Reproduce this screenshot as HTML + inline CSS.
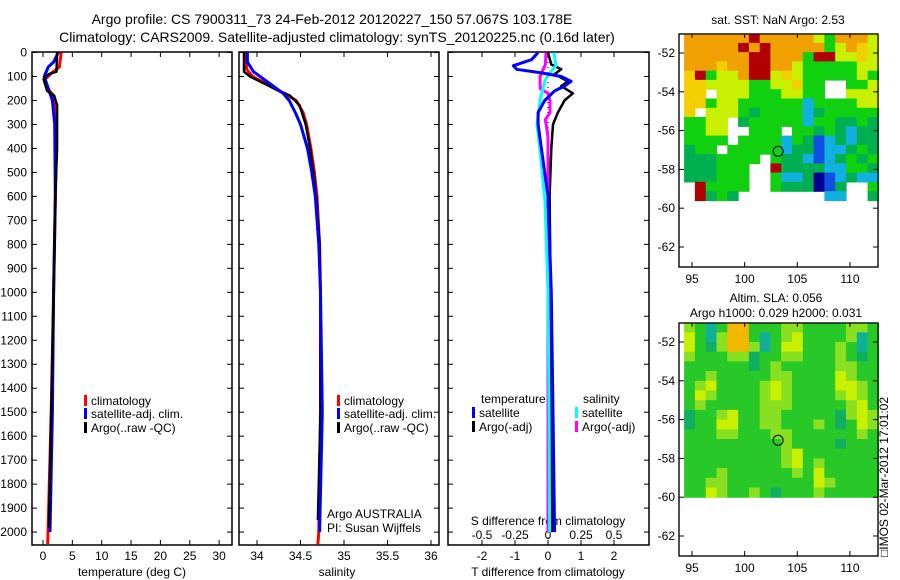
<!DOCTYPE html>
<html><head><meta charset="utf-8"><style>
html,body{margin:0;padding:0;background:#fff;}
svg{display:block;font-family:"Liberation Sans",sans-serif;}
</style></head><body>
<svg id="fig" width="900" height="580" viewBox="0 0 900 580" xmlns="http://www.w3.org/2000/svg">
<text x="332" y="24" font-size="14" text-anchor="middle">Argo profile: CS 7900311_73 24-Feb-2012 20120227_150 57.067S 103.178E</text>
<text x="337" y="42" font-size="14" text-anchor="middle">Climatology: CARS2009. Satellite-adjusted climatology: synTS_20120225.nc (0.16d later)</text>
<text x="778" y="24" font-size="12" text-anchor="middle">sat. SST: NaN Argo: 2.53</text>
<text x="776" y="302" font-size="12" text-anchor="middle">Altim. SLA: 0.056</text>
<text x="776" y="317" font-size="12" text-anchor="middle">Argo h1000: 0.029 h2000: 0.031</text>
<text x="888" y="557" font-size="12" transform="rotate(-90 888 557)">□IMOS 02-Mar-2012 17:01:02</text>
<text x="132" y="576" font-size="12" text-anchor="middle">temperature (deg C)</text>
<text x="337" y="576" font-size="12" text-anchor="middle">salinity</text>
<text x="548" y="576" font-size="12" text-anchor="middle">T difference from climatology</text>
<text x="548" y="525" font-size="12" text-anchor="middle">S difference from climatology</text>
<text x="327" y="518" font-size="12">Argo AUSTRALIA</text>
<text x="327" y="532" font-size="12">PI: Susan Wijffels</text>
</svg>
<script>
// ---- profile data ----
const tClimDepth = [0,60,85,115,150,180,250,500,1000,1500,2000,2050];
const tClimVal   = [3.1,2.8,1.5,0.2,0.8,1.8,2.3,2.2,1.8,1.4,0.85,0.8];
const tSatDepth  = [0,40,60,100,150,200,300,600,1000,1500,2000];
const tSatVal    = [2.6,1.8,0.9,0.2,0.9,1.6,2.0,2.1,1.8,1.6,1.2];
const tArgoDepth = [0,80,90,110,160,180,220,400,600,1000,1500,1980];
const tArgoVal   = [2.4,2.3,1.0,0.1,0.7,1.9,2.4,2.4,2.1,1.8,1.4,1.0];

const sClimDepth = [0,70,100,150,180,200,250,300,400,500,600,800,1000,1500,2000,2050];
const sClimVal   = [33.87,33.88,33.95,34.2,34.36,34.45,34.53,34.57,34.62,34.66,34.69,34.72,34.73,34.73,34.71,34.70];
const sSatDepth  = [0,40,80,130,170,200,250,300,400,500,600,800,1000,1500,2000];
const sSatVal    = [33.89,33.89,33.96,34.15,34.3,34.37,34.44,34.5,34.58,34.63,34.67,34.71,34.73,34.75,34.72];
const sArgoDepth = [0,80,100,150,180,220,300,400,500,600,800,1000,1500,1950];
const sArgoVal   = [33.85,33.85,33.92,34.2,34.38,34.49,34.56,34.61,34.65,34.68,34.72,34.73,34.73,34.70];

const dtSatDepth = [0,30,55,70,85,100,120,140,160,200,250,300,400,600,1000,1500,2000];
const dtSatVal   = [-0.3,-0.5,-1.05,-0.95,-0.2,0.4,0.7,0.5,0.2,-0.1,-0.3,-0.3,-0.2,0,0.1,0.15,0.2];
const dtArgoDepth= [0,50,70,90,120,140,170,200,250,300,400,600,1000,1500,2000];
const dtArgoVal  = [0,0.1,0.4,0.2,0.6,0.4,0.75,0.5,0.3,0.15,0.1,0.05,0.08,0.1,0.12];
const dsSatDepth = [0,54,115,200,300,410,620,1000,1500,2000];
const dsSatVal   = [0.045,0.06,-0.023,-0.06,-0.083,-0.06,-0.023,0.0,0.008,0.012];
const dsArgoDepth= [0,50,100,150,170,200,250,280,350,1000,2000];
const dsArgoVal  = [-0.015,-0.02,-0.06,-0.06,0,0.015,0.015,-0.02,0,0,0];

const depthTicks = [0,100,200,300,400,500,600,700,800,900,1000,1100,1200,1300,1400,1500,1600,1700,1800,1900,2000];
const tTicks = [0,5,10,15,20,25,30];
const sTicks = [34,34.5,35,35.5,36];
const sTickLabels = ["34","34.5","35","35.5","36"];
const dtTicks = [-2,-1,0,1,2];
const dsTicks = [-0.5,-0.25,0,0.25,0.5];
const dsTickLabels = ["-0.5","-0.25","0","0.25","0.5"];

// ---- map data (1 deg lon x ~0.5 deg lat cells) ----
const sstRows = [
"OOOOOOROOOOOLGOOOL",
"OOOOOROROOOOOGLOYL",
"OOOOOORROOOGRRLLYL",
"OOOYOORROOLGGGGGLL",
"YRGLLORRLYLGGGGGLG",
"YYLLLLGGLLYGGWWGGL",
"YYWLLLGGGLLGGWWLLL",
"YYGLLGGGGGGCGGGGLL",
"YWLLLGDGGGGCDGGGGG",
"GGLLWDGGGGGCGGDDGD",
"GGLLWWGGGWGGDGDCDD",
"GGGGWGGGGCGDBCDCDD",
"DGGWGGGGGCDDBCCDGD",
"DDDGGGGWGDDCBCDGDG",
"DDDGGGWWRDDDDCCGGD",
"DDDGGGWWGCCDNBCDCC",
"WRGGGGWWGDDDNBDWWG",
"WRDGDWWWWWWWWCCWWD"];
const slaRows = [
"LGTGOOGGGLLGGGGLLG",
"YGTLOOGTGLYGGGGLTG",
"YGgLOOLTGYYGGGLGTG",
"LGGGLLgGGLLGGGLGgG",
"GGGGGGgGLGGGGGLLGG",
"GGLGGGGGLLGGGGYLGG",
"GLYGGGGLYLGGGGYYLG",
"GYLGGGGLYLGGGGLYLG",
"GLGGGGGLLLGGGGGLYG",
"gGGLYGGLLGGGGGgLYL",
"gGGYYGGLLGGGLGgGYL",
"GGGLLGGGLLGGGGGGLG",
"GGGGGGGGGLGGGGgGGG",
"GGGGGGGGGLYGGGGGGG",
"GGGGGGGGGLYGLGGGGG",
"GGGLGGGGGGLGYGGGGG",
"GGLLGGGGGGGGYLGGGG",
"GGYLGGLGgGGGLGGGGG"];
const latTicks = [-52,-54,-56,-58,-60,-62];
const lonTicks = [95,100,105,110];
const argoLon = 103.178, argoLat = -57.067;

const NS="http://www.w3.org/2000/svg";
const svg=document.getElementById('fig');
function mk(tag,attrs,parent){const e=document.createElementNS(NS,tag);for(const k in attrs)e.setAttribute(k,attrs[k]);(parent||svg).appendChild(e);return e;}

const yD=d=>52.5+d*0.2398;
const xT=t=>43+t*5.87;
const xS=s=>257+(s-34)*87;
const xDT=v=>548+v*33;
const xDS=v=>548+v*132;
const TOP=52, BOT=545;

function box(x0,x1,name){
  const r=mk('rect',{x:x0,y:TOP,width:x1-x0,height:BOT-TOP,fill:'none',stroke:'#000','stroke-width':1.5});
  
  
  for(const d of depthTicks){
    const t1=mk('line',{x1:x0,x2:x0+5,y1:yD(d),y2:yD(d),stroke:'#000'});
    
    
    const t2=mk('line',{x1:x1,x2:x1-5,y1:yD(d),y2:yD(d),stroke:'#000'});
    
    
  }
}
function xticks(vals,labels,fx,name,labelY,top){
  vals.forEach((v,i)=>{
    const x=fx(v);
    const a=mk('line',{x1:x,x2:x,y1:BOT,y2:BOT-5,stroke:'#000'});
    
    
    if(top){const b=mk('line',{x1:x,x2:x,y1:TOP,y2:TOP+5,stroke:'#000'});
      
      }
    const t=mk('text',{x:x,y:labelY,'font-size':12,'text-anchor':'middle'});
    t.textContent=labels[i];
    
    
  });
}
function profile(depths,vals,fx,color,name,w){
  const pts=depths.map((d,i)=>fx(vals[i]).toFixed(1)+','+yD(d).toFixed(1)).join(' ');
  const p=mk('polyline',{points:pts,fill:'none',stroke:color,'stroke-width':w||3,'stroke-linejoin':'round'});
  
  
}
function legend(x,y,color,label){
  const r=mk('rect',{x:x,y:y-10,width:3,height:11,fill:color});
  
  
  const t=mk('text',{x:x+7,y:y,'font-size':12});
  t.textContent=label;
  
  
}

// panel 1
box(32,232,'temperature-panel');
depthTicks.forEach(d=>{const t=mk('text',{x:27,y:yD(d)+4,'font-size':12,'text-anchor':'end'});t.textContent=String(d);
  
  });
xticks(tTicks,tTicks.map(String),xT,'temperature-x',560,true);
profile(tClimDepth,tClimVal,xT,'#f00','temperature-climatology-line');
profile(tSatDepth,tSatVal,xT,'#00f','temperature-satellite-line');
profile(tArgoDepth,tArgoVal,xT,'#000','temperature-argo-line',2.5);
legend(84,405,'#f00','climatology');legend(84,418,'#00f','satellite-adj. clim.');legend(84,432,'#000','Argo(..raw -QC)');

// panel 2
box(239,439,'salinity-panel');
xticks(sTicks,sTickLabels,xS,'salinity-x',560,true);
profile(sClimDepth,sClimVal,xS,'#f00','salinity-climatology-line');
profile(sArgoDepth,sArgoVal,xS,'#000','salinity-argo-line',2.5);
profile(sSatDepth,sSatVal,xS,'#00f','salinity-satellite-line');
legend(337,405,'#f00','climatology');legend(337,418,'#00f','satellite-adj. clim.');legend(337,432,'#000','Argo(..raw -QC)');

// panel 3
box(448,649,'difference-panel');
const zl=mk('line',{x1:548,x2:548,y1:TOP,y2:BOT,stroke:'#000','stroke-dasharray':'1 4'});


xticks(dtTicks,dtTicks.map(String),xDT,'t-diff-x',560,true);
dsTicks.forEach((v,i)=>{const t=mk('text',{x:xDS(v),y:539,'font-size':12,'text-anchor':'middle'});t.textContent=dsTickLabels[i];
  
  });
profile(dtArgoDepth,dtArgoVal,xDT,'#000','t-diff-argo-line',2.5);
profile(dsArgoDepth,dsArgoVal,xDS,'#f0f','s-diff-argo-line');
profile(dsSatDepth,dsSatVal,xDS,'#0ff','s-diff-satellite-line');
profile(dtSatDepth,dtSatVal,xDT,'#00f','t-diff-satellite-line');
const lt=mk('text',{x:481,y:403,'font-size':12});lt.textContent='temperature';


const ls=mk('text',{x:583,y:403,'font-size':12});ls.textContent='salinity';


legend(472,417,'#00f','satellite');legend(472,431,'#000','Argo(-adj)');
legend(575,417,'#0ff','satellite');legend(575,431,'#f0f','Argo(-adj)');

// maps
const sstColors={R:'#b00000',O:'#f0a000',Y:'#f2d000',L:'#c8f000',G:'#10d010',D:'#00b050',C:'#10b0e0',B:'#1050e0',N:'#000090'};
const slaColors={L:'#88e020',G:'#28c828',g:'#10b060',T:'#10b098',Y:'#c8f000',O:'#f0b800'};
function map(rows,colors,y0,y1,latBot,name){
  const lonX=lon=>692+(lon-95)*10.53;
  const latY=lat=>y0+19+(-52-lat)*19.4;
  const r=mk('rect',{x:679,y:y0,width:199,height:y1-y0,fill:'#fff',stroke:'#000','stroke-width':1.2});
  
  
  const g=mk('g',{});
  
  
  const nr=rows.length, nc=rows[0].length;
  const lonA=94.25, lonB=112.7, latA=-51.0;
  const dLon=(lonB-lonA)/nc, dLat=(latA-latBot)/nr;
  rows.forEach((row,j)=>{for(let i=0;i<nc;i++){const c=colors[row[i]];if(!c)continue;
    const x=lonX(lonA+i*dLon), y=latY(latA-j*dLat);
    const cell=mk('rect',{x:x.toFixed(1),y:y.toFixed(1),width:(dLon*10.53+0.6).toFixed(1),height:(dLat*19.4+0.6).toFixed(1),fill:c},g);
    
    }});
  mk('rect',{x:679,y:y0,width:199,height:y1-y0,fill:'none',stroke:'#000','stroke-width':1.2});
  latTicks.forEach(l=>{const y=latY(l);
    const t=mk('line',{x1:679,x2:684,y1:y,y2:y,stroke:'#000'});
    
    
    const t2=mk('line',{x1:878,x2:873,y1:y,y2:y,stroke:'#000'});
    
    
    const tx=mk('text',{x:675,y:y+4,'font-size':12,'text-anchor':'end'});tx.textContent=String(l);
    
    });
  lonTicks.forEach(l=>{const x=lonX(l);
    const t=mk('line',{x1:x,x2:x,y1:y1,y2:y1-5,stroke:'#000'});
    
    
    const t2=mk('line',{x1:x,x2:x,y1:y0,y2:y0+4,stroke:'#000'});
    
    
    const tx=mk('text',{x:x,y:y1+16,'font-size':12,'text-anchor':'middle'});tx.textContent=String(l);
    
    });
  const c=mk('circle',{cx:lonX(argoLon),cy:latY(argoLat),r:5,fill:'none',stroke:'#000','stroke-width':1});
  
  
}
map(sstRows,sstColors,34,267,-59.6,'sst-map');
map(slaRows,slaColors,323,556,-60.0,'sla-map');
</script>
</body></html>
